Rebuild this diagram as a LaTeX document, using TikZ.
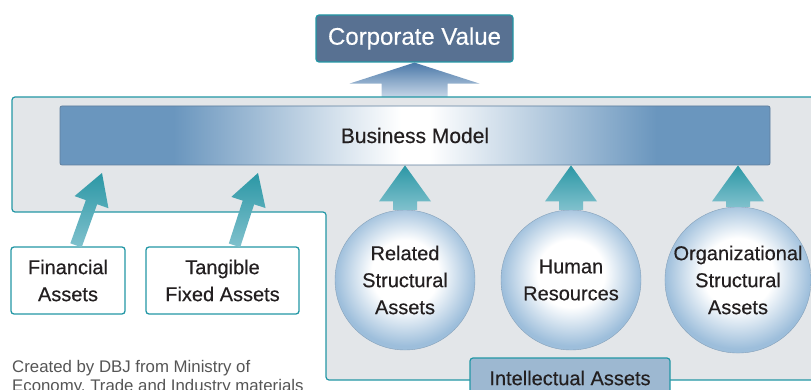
\documentclass[tikz,border=0pt]{standalone}
\usepackage{fontspec}
\setmainfont{Liberation Sans}
\newfontfamily\mediumfont{Liberation Sans}[FakeBold=0.4]
\usetikzlibrary{calc}

\definecolor{tealline}{HTML}{2397A5}
\definecolor{panelgray}{HTML}{E3E6E9}
\definecolor{slateblue}{HTML}{587192}
\definecolor{barblue}{HTML}{6A96BE}
\definecolor{baredge}{HTML}{5F7F9E}
\definecolor{ballblue}{HTML}{9DBEDB}
\definecolor{tealdark}{HTML}{2B97A5}
\definecolor{teallight}{HTML}{80C1CD}
\definecolor{cvdark}{HTML}{4A78A8}
\definecolor{cvlight}{HTML}{C6D6E7}
\definecolor{iafill}{HTML}{9DB8D1}
\definecolor{inktext}{HTML}{231F20}
\definecolor{notegray}{HTML}{555555}

\pgfdeclarehorizontalshading{bizshade}{100bp}{color(0bp)=(barblue); color(33bp)=(barblue); color(49bp)=(white); color(51bp)=(white); color(67bp)=(barblue); color(100bp)=(barblue)}
\pgfdeclareradialshading{ballshade}{\pgfpoint{0bp}{3bp}}{color(0bp)=(white); color(12bp)=(white); color(25bp)=(ballblue); color(50bp)=(ballblue)}

\newcommand*{\BlockArrow}[6]{% #1 = foot, #2 = tip, #3/#4 = head/shaft half width, #5 = head length
\coordinate (ba-neck) at ($(#2)!#5!(#1)$);
\path[#6] ($(#1)!#4!90:(#2)$) -- ($(ba-neck)!#4!90:(#2)$) -- ($(ba-neck)!#3!90:(#2)$)
  -- (#2) -- ($(ba-neck)!#3!-90:(#2)$) -- ($(ba-neck)!#4!-90:(#2)$) -- ($(#1)!#4!-90:(#2)$) -- cycle;
}

\tikzset{
  panel/.style={fill=panelgray, draw=tealline, line width=1.2pt, rounded corners=3pt},
  corpbox/.style={fill=slateblue, draw=tealline, line width=1.2pt, rounded corners=3pt,
    text=white, minimum width=197pt, minimum height=47pt, font=\mediumfont\fontsize{24}{28}\selectfont},
  bizbar/.style={shading=bizshade, draw=baredge, line width=0.8pt, rounded corners=2pt,
    minimum width=710pt, minimum height=59pt, text=inktext, font=\mediumfont\fontsize{21}{25}\selectfont},
  assetbox/.style={draw=tealline, line width=1.3pt, fill=white, rounded corners=3pt, align=center,
    minimum height=67pt, text=inktext, font=\mediumfont\fontsize{20}{27}\selectfont},
  assetball/.style={circle, minimum size=140pt, inner sep=0pt, shading=ballshade, draw=ballblue!85!black,
    line width=0.4pt, align=center, text=inktext, font=\mediumfont\fontsize{20}{27}\selectfont},
  iabox/.style={fill=iafill, draw=tealline, line width=1.2pt, rounded corners=3pt,
    minimum width=200pt, minimum height=40pt, text=inktext, font=\mediumfont\fontsize{20}{24}\selectfont},
  note/.style={align=left, inner sep=0pt, text=notegray, font=\fontsize{16.8}{19.5}\selectfont},
  tealarrow/.style={top color=tealdark, bottom color=teallight},
  cvarrow/.style={top color=cvdark, bottom color=cvlight}
}

\begin{document}
\begin{tikzpicture}[x=1pt,y=-1pt]
\useasboundingbox (0,0) rectangle (811,390);
\clip (0,0) rectangle (811,390);

\node[corpbox] (corp) at (414.5,38.5) {Corporate Value};
\coordinate (cvbase) at (414.5,97);
\BlockArrow{cvbase}{corp.south}{65pt}{33pt}{21pt}{cvarrow}

\draw[panel] (830,97) -- (12,97) -- (12,212) -- (326,212) -- (326,380) -- (830,380);

\node[bizbar] (biz) at (415,135.5) {Business Model};

\node[assetbox, minimum width=114pt] (fin) at (68,280.5) {Financial\\Assets};
\node[assetbox, minimum width=153pt] (tfa) at (222.5,280.5) {Tangible\\Fixed Assets};
\coordinate (fintip) at (102,173);
\coordinate (tfatip) at (258,173);
\BlockArrow{[xshift=8pt,yshift=1pt]fin.north}{fintip}{18pt}{6pt}{31pt}{tealarrow}
\BlockArrow{[xshift=12pt,yshift=1pt]tfa.north}{tfatip}{18pt}{6pt}{31pt}{tealarrow}

\foreach \name/\x/\lbl in {rel/405/{Related\\Structural\\Assets},
    hum/571/{Human\\Resources}, org/738/{Organizational\\Structural\\Assets}} {
  \node[assetball] (\name) at (\x,280) {\lbl};
  \BlockArrow{\name.north}{\name.north |- biz.south}{26pt}{12pt}{36pt}{tealarrow}
}

\node[iabox] (ia) at (570,378) {Intellectual Assets};

\node[note, anchor=north west] (src) at (12,360) {Created by DBJ from Ministry of\\Economy, Trade and Industry materials};
\end{tikzpicture}
\end{document}
